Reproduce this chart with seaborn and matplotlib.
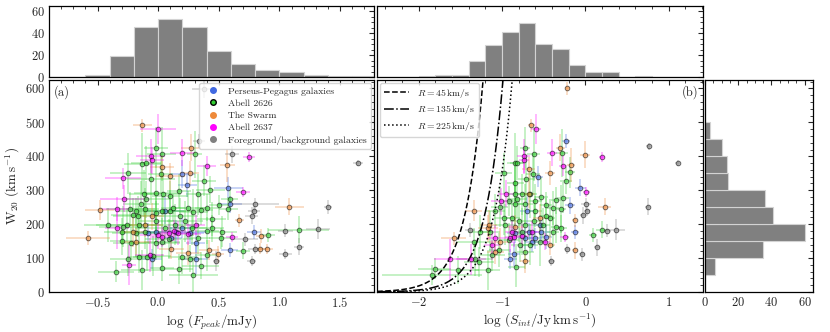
import numpy as np
import pandas as pd
import matplotlib
matplotlib.use("Agg")
import matplotlib.pyplot as plt
import seaborn as sns
from matplotlib.lines import Line2D
from matplotlib.ticker import MultipleLocator

# --- panel (a): (log F_peak, W20, err log F_peak, err W20) ---
pp_a = [(0.20, 348, 0.10, 40), (0.24, 316, 0.08, 35), (0.58, 308, 0.12, 30), (0.59, 258, 0.10, 25),
        (0.79, 177, 0.06, 20), (0.59, 123, 0.07, 20), (0.31, 145, 0.08, 30), (0.31, 98, 0.10, 45),
        (-0.05, 98, 0.08, 30), (0.15, 178, 0.25, 35), (0.06, 240, 0.15, 40), (-0.02, 178, 0.12, 25),
        (0.20, 188, 0.10, 30), (0.26, 173, 0.12, 25), (0.11, 158, 0.09, 35), (-0.08, 173, 0.10, 30)]
a2626_a = [(-0.02, 426, 0.10, 60), (0.30, 406, 0.06, 70), (0.03, 406, 0.12, 80), (-0.13, 378, 0.15, 90),
           (-0.10, 381, 0.12, 50), (-0.25, 350, 0.15, 60), (-0.06, 333, 0.20, 70), (0.02, 348, 0.10, 60),
           (0.38, 328, 0.10, 45), (0.43, 301, 0.12, 40), (-0.02, 293, 0.18, 80), (0.04, 288, 0.15, 60),
           (-0.12, 290, 0.12, 70), (-0.10, 273, 0.20, 55), (0.10, 283, 0.15, 45), (0.17, 298, 0.10, 50),
           (0.33, 288, 0.10, 60), (0.59, 273, 0.07, 30), (-0.23, 246, 0.20, 50), (-0.14, 258, 0.15, 70),
           (-0.11, 246, 0.12, 60), (-0.21, 228, 0.18, 50), (-0.18, 238, 0.15, 40), (-0.17, 223, 0.20, 60),
           (-0.02, 233, 0.15, 50), (0.03, 238, 0.20, 45), (0.10, 240, 0.18, 60), (0.12, 248, 0.10, 40),
           (0.25, 248, 0.15, 50), (0.29, 235, 0.12, 70), (0.35, 243, 0.10, 45), (0.40, 248, 0.10, 40),
           (0.50, 256, 0.08, 30), (0.44, 216, 0.12, 50), (0.58, 246, 0.08, 35), (1.16, 184, 0.25, 40),
           (0.91, 168, 0.05, 20), (0.70, 121, 0.06, 25), (0.52, 158, 0.10, 30), (0.53, 178, 0.12, 45),
           (0.35, 77, 0.15, 40), (0.29, 51, 0.20, 50), (0.17, 68, 0.12, 45), (0.03, 71, 0.10, 40),
           (-0.13, 65, 0.18, 60), (-0.25, 97, 0.15, 50), (-0.35, 60, 0.15, 30), (-0.30, 150, 0.10, 40),
           (-0.22, 143, 0.15, 50), (-0.16, 102, 0.10, 45), (-0.09, 102, 0.12, 40), (-0.04, 106, 0.15, 60),
           (-0.02, 143, 0.20, 50), (0.03, 148, 0.15, 70), (0.09, 156, 0.20, 60), (0.20, 103, 0.12, 50),
           (0.26, 98, 0.10, 40), (0.40, 108, 0.10, 45), (-0.29, 193, 0.20, 60), (-0.26, 198, 0.25, 50),
           (-0.18, 173, 0.20, 70), (0.40, 181, 0.10, 40), (0.22, 208, 0.15, 60), (0.28, 188, 0.12, 50),
           (0.14, 198, 0.20, 60), (0.06, 188, 0.25, 50), (-0.02, 208, 0.15, 60), (-0.11, 178, 0.20, 50),
           (0.33, 158, 0.10, 45), (-0.16, 198, 0.18, 55), (-0.30, 178, 0.15, 40), (-0.41, 198, 0.20, 50),
           (0.18, 223, 0.15, 55), (0.44, 188, 0.10, 40)]
swarm_a = [(-0.13, 491, 0.08, 20), (0.27, 426, 0.08, 40), (0.03, 368, 0.10, 35), (0.57, 373, 0.06, 50),
           (0.10, 341, 0.12, 40), (0.26, 350, 0.08, 35), (1.08, 251, 0.12, 25), (-0.48, 241, 0.12, 30),
           (0.67, 211, 0.04, 20), (0.85, 165, 0.04, 20), (0.84, 128, 0.06, 15), (0.90, 126, 0.05, 15),
           (-0.58, 160, 0.18, 20), (0.49, 111, 0.05, 25), (0.25, 115, 0.10, 35), (0.42, 123, 0.08, 30),
           (-0.21, 178, 0.10, 45), (-0.18, 148, 0.12, 40), (-0.11, 198, 0.15, 35), (-0.05, 223, 0.10, 40),
           (0.11, 128, 0.10, 30)]
a2637_a = [(0.00, 480, 0.15, 45), (0.20, 411, 0.10, 40), (-0.06, 400, 0.12, 50), (-0.05, 388, 0.10, 40),
           (0.40, 372, 0.08, 30), (0.75, 398, 0.05, 15), (-0.29, 335, 0.15, 30), (0.70, 295, 0.06, 15),
           (-0.28, 275, 0.20, 40), (-0.34, 245, 0.12, 35), (0.61, 163, 0.05, 15), (-0.24, 80, 0.06, 60),
           (0.13, 181, 0.10, 30), (0.16, 173, 0.12, 35), (0.31, 198, 0.08, 30), (0.00, 168, 0.15, 40),
           (0.03, 163, 0.10, 30), (-0.34, 188, 0.10, 60), (-0.07, 110, 0.12, 50), (0.09, 175, 0.10, 25),
           (0.25, 170, 0.10, 30)]
fgbg_a = [(0.38, 598, 0.10, 25), (0.34, 446, 0.05, 20), (0.61, 406, 0.06, 25), (1.65, 380, 0.04, 10),
          (0.80, 258, 0.20, 20), (1.40, 251, 0.03, 20), (0.79, 238, 0.05, 15), (0.77, 225, 0.05, 25),
          (1.05, 181, 0.06, 20), (1.32, 186, 0.10, 30), (0.72, 155, 0.10, 20), (0.80, 126, 0.06, 15),
          (0.77, 91, 0.04, 15), (1.05, 113, 0.05, 15), (1.16, 133, 0.04, 25), (0.48, 91, 0.03, 30)]

# --- panel (b): (log S_int, W20, err log S_int, err W20) ---
pp_b = [(-0.23, 446, 0.05, 20), (-0.57, 340, 0.06, 30), (-0.06, 308, 0.07, 25), (-0.18, 256, 0.06, 25),
        (-0.125, 177, 0.05, 20), (-0.90, 98, 0.08, 30), (-0.86, 113, 0.07, 35), (-0.60, 158, 0.08, 30),
        (-0.53, 178, 0.10, 35), (-0.68, 178, 0.10, 25), (-0.55, 198, 0.08, 30), (-0.72, 158, 0.09, 30),
        (-0.47, 163, 0.07, 35), (-0.70, 240, 0.08, 40), (-0.84, 173, 0.10, 30), (-0.64, 148, 0.08, 30)]
a2626_b = [(-0.73, 425, 0.06, 60), (-0.62, 406, 0.08, 80), (-0.28, 410, 0.07, 70), (-0.84, 380, 0.10, 90),
           (-0.82, 381, 0.08, 50), (-0.98, 350, 0.10, 60), (-0.63, 348, 0.08, 60), (-0.71, 333, 0.10, 70),
           (-0.19, 353, 0.06, 45), (-0.23, 328, 0.07, 40), (-0.84, 290, 0.10, 80), (-0.76, 288, 0.09, 60),
           (-0.66, 288, 0.08, 70), (-0.82, 273, 0.12, 55), (-0.92, 268, 0.12, 45), (-0.84, 258, 0.10, 70),
           (-0.72, 258, 0.09, 60), (-0.60, 268, 0.08, 50), (-0.53, 280, 0.08, 60), (-0.47, 256, 0.07, 40),
           (-0.39, 248, 0.07, 50), (-0.29, 245, 0.06, 70), (-0.27, 278, 0.07, 45), (0.09, 168, 0.05, 20),
           (0.20, 184, 0.07, 25), (-1.08, 238, 0.12, 50), (-1.03, 252, 0.10, 60), (-0.98, 218, 0.12, 50),
           (-1.53, 65, 0.25, 40), (-1.84, 51, 0.60, 30), (-1.81, 69, 0.20, 30), (-1.32, 98, 0.20, 50),
           (-1.28, 88, 0.18, 45), (-1.17, 65, 0.15, 60), (-1.04, 123, 0.12, 50), (-1.12, 108, 0.15, 45),
           (-0.83, 75, 0.10, 60), (-0.72, 118, 0.10, 50), (-1.34, 148, 0.20, 40), (-1.26, 178, 0.15, 50),
           (-1.15, 178, 0.12, 60), (-0.79, 138, 0.10, 50), (-0.66, 140, 0.09, 60), (-0.55, 148, 0.08, 70),
           (-0.39, 178, 0.07, 45), (-0.35, 193, 0.06, 50), (-0.29, 188, 0.07, 40), (-0.96, 198, 0.12, 60),
           (-0.88, 218, 0.10, 55), (-0.80, 208, 0.10, 60), (-0.72, 198, 0.09, 50), (-0.62, 208, 0.08, 60),
           (-0.51, 198, 0.08, 50), (-0.43, 218, 0.07, 55), (-0.76, 178, 0.10, 70), (-0.92, 153, 0.12, 50),
           (-0.60, 238, 0.08, 45), (-0.47, 223, 0.07, 55), (-0.84, 320, 0.10, 60), (-0.35, 270, 0.06, 40)]
swarm_b = [(-0.22, 600, 0.03, 20), (-0.65, 491, 0.04, 20), (-0.30, 426, 0.05, 40), (-0.01, 405, 0.06, 40),
           (-0.17, 374, 0.05, 50), (-0.68, 363, 0.08, 35), (-0.42, 350, 0.06, 35), (0.23, 251, 0.08, 25),
           (-0.13, 211, 0.03, 20), (-0.125, 123, 0.04, 25), (-1.34, 240, 0.10, 30), (-1.17, 188, 0.12, 40),
           (-1.58, 158, 0.15, 20), (-0.72, 90, 0.06, 35), (-1.16, 198, 0.10, 45), (-1.02, 148, 0.12, 40),
           (-0.84, 193, 0.10, 35), (-0.55, 218, 0.08, 40), (-0.43, 138, 0.07, 30), (-1.08, 118, 0.10, 35),
           (-0.68, 288, 0.08, 40)]
a2637_b = [(-0.59, 480, 0.06, 45), (-0.40, 411, 0.06, 40), (0.20, 398, 0.04, 15), (-0.74, 400, 0.08, 50),
           (-0.74, 388, 0.06, 40), (-0.27, 372, 0.05, 30), (0.01, 296, 0.04, 15), (-0.95, 290, 0.10, 40),
           (-0.25, 163, 0.05, 15), (-1.62, 96, 0.20, 60), (-1.37, 96, 0.18, 45), (-1.08, 158, 0.10, 40),
           (-0.90, 158, 0.08, 40), (-0.86, 163, 0.10, 30), (-0.88, 178, 0.08, 35), (-1.01, 268, 0.12, 40),
           (-1.12, 138, 0.10, 45), (-0.76, 166, 0.08, 35), (-0.64, 178, 0.08, 30), (-0.49, 148, 0.07, 25)]
fgbg_b = [(0.76, 430, 0.03, 10), (1.11, 380, 0.03, 10), (0.75, 251, 0.03, 25), (0.01, 258, 0.06, 20),
          (0.02, 240, 0.04, 15), (-0.03, 226, 0.04, 25), (0.26, 181, 0.05, 20), (0.37, 184, 0.10, 30),
          (0.14, 132, 0.04, 25), (-0.22, 126, 0.04, 15), (-0.04, 111, 0.04, 20), (-0.41, 91, 0.04, 15),
          (-1.38, 183, 0.06, 20)]

# --- marginal histograms (bin edges, counts) ---
fpeak_edges = np.round(np.arange(-1.0, 1.81, 0.2), 2)
fpeak_counts = [0, 0, 2, 19, 46, 53, 46, 24, 12, 6, 5, 2, 1, 1]
sint_edges = np.round(np.arange(-2.6, 1.41, 0.2), 2)
sint_counts = [0, 0, 0, 1, 2, 2, 15, 29, 41, 49, 30, 26, 11, 5, 5, 0, 1, 0, 0, 0]
w20_edges = np.arange(0, 601, 50)
w20_counts = [0, 6, 35, 60, 41, 36, 14, 13, 10, 3, 0, 0]

# detection-limit curves, S_lim = sig * sqrt(W * R)
r_values = [45, 135, 225]
r_styles = ['--', '-.', ':']
sig_lim = 3.53e-4

groups = ['Perseus-Pegagus galaxies', 'Abell 2626', 'The Swarm', 'Abell 2637',
          'Foreground/background galaxies']
colors = ['royalblue', 'limegreen', '#ee8a3a', 'magenta', 'gray']
data_a = [pp_a, a2626_a, swarm_a, a2637_a, fgbg_a]
data_b = [pp_b, a2626_b, swarm_b, a2637_b, fgbg_b]

sns.set_style('white')
plt.rcParams.update({
    'font.family': 'serif',
    'font.serif': ['cmr10'],
    'mathtext.fontset': 'cm',
    'axes.formatter.use_mathtext': True,
    'axes.unicode_minus': True,
    'font.size': 9,
    'axes.linewidth': 0.9,
})

W, H = 830, 332
fig = plt.figure(figsize=(W / 100, H / 100), dpi=100)


def rect(x0, x1, y0, y1):
    return [x0 / W, 1 - y1 / H, (x1 - x0) / W, (y1 - y0) / H]


ax_a = fig.add_axes(rect(49, 374, 80, 292))
ax_b = fig.add_axes(rect(377, 703, 80, 292), sharey=ax_a)
ax_r = fig.add_axes(rect(705, 813, 80, 292), sharey=ax_a)
ax_ta = fig.add_axes(rect(49, 374, 6, 77), sharex=ax_a)
ax_tb = fig.add_axes(rect(377, 703, 6, 77), sharex=ax_b, sharey=ax_ta)


def draw_points(ax, sets):
    for pts, c in zip(sets, colors):
        x, y, ex, ey = np.array(pts).T
        ax.errorbar(x, y, xerr=ex, yerr=ey, fmt='none', ecolor=c, elinewidth=1.3,
                    alpha=0.3, capsize=0, zorder=2)
        sns.scatterplot(x=x, y=y, ax=ax, color=c, edgecolor='k', s=11, linewidth=0.7,
                        alpha=0.55, zorder=3, legend=False)


draw_points(ax_a, data_a)
draw_points(ax_b, data_b)

wgrid = np.linspace(0.3, 700, 600)
for r, ls in zip(r_values, r_styles):
    sns.lineplot(x=np.log10(sig_lim * np.sqrt(wgrid * r)), y=wgrid, ax=ax_b, color='k',
                 linestyle=ls, lw=1.1, sort=False, estimator=None,
                 label=r'$R = %d\,\mathrm{km/s}$' % r)


def hist(ax, edges, counts, orient='x'):
    df = pd.DataFrame({'val': (edges[:-1] + edges[1:]) / 2, 'n': counts})
    sns.histplot(data=df, **{orient: 'val'}, weights='n', bins=list(edges), ax=ax,
                 color='gray', edgecolor='lightgray', linewidth=0.8, alpha=1)
    ax.set_xlabel('')
    ax.set_ylabel('')


hist(ax_ta, fpeak_edges, fpeak_counts)
hist(ax_tb, sint_edges, sint_counts)
hist(ax_r, w20_edges, w20_counts, orient='y')

ax_a.set_xlim(-0.9, 1.78)
ax_b.set_xlim(-2.5, 1.41)
ax_a.set_ylim(0, 625)
ax_ta.set_ylim(0, 65)
ax_r.set_xlim(0, 65)

ax_a.xaxis.set_major_locator(MultipleLocator(0.5))
ax_a.xaxis.set_minor_locator(MultipleLocator(0.1))
ax_b.xaxis.set_major_locator(MultipleLocator(1))
ax_b.xaxis.set_minor_locator(MultipleLocator(0.2))
ax_a.yaxis.set_major_locator(MultipleLocator(100))
ax_a.yaxis.set_minor_locator(MultipleLocator(20))
ax_ta.yaxis.set_major_locator(MultipleLocator(20))
ax_ta.yaxis.set_minor_locator(MultipleLocator(5))
ax_r.xaxis.set_major_locator(MultipleLocator(20))
ax_r.xaxis.set_minor_locator(MultipleLocator(5))

for ax in [ax_a, ax_b, ax_r, ax_ta, ax_tb]:
    ax.tick_params(which='both', direction='in', top=True, right=True, labelsize=9, pad=3)
    ax.tick_params(which='major', length=3.5, width=0.8)
    ax.tick_params(which='minor', length=2, width=0.6)
    for s in ax.spines.values():
        s.set_color('black')

ax_b.tick_params(labelleft=False)
ax_r.tick_params(labelleft=False)
ax_ta.tick_params(labelbottom=False)
ax_tb.tick_params(labelbottom=False, labelleft=False)

ax_a.set_xlabel(r'log $(F_{peak}/\mathrm{mJy})$', fontsize=9.5, labelpad=2)
ax_b.set_xlabel(r'log $(S_{int}/\mathrm{Jy\,km\,s^{-1}})$', fontsize=9.5, labelpad=2)
ax_a.set_ylabel(r'W$_{20}$ $(\mathrm{km\,s^{-1}})$', fontsize=9.5, labelpad=2)

ax_a.text(0.015, 0.975, '(a)', transform=ax_a.transAxes, ha='left', va='top', fontsize=9)
ax_b.text(0.985, 0.975, '(b)', transform=ax_b.transAxes, ha='right', va='top', fontsize=9)

handles = []
for g, c in zip(groups, colors):
    mec = 'k' if g == 'Abell 2626' else c
    handles.append(Line2D([], [], ls='', marker='o', color=c, mec=mec, mew=1.0, ms=4, label=g))
ax_a.legend(handles=handles, loc='upper right', fontsize=7, borderaxespad=0.3,
            handletextpad=0.6, labelspacing=0.35, framealpha=0.8)
ax_b.legend(loc='upper left', fontsize=7, borderaxespad=0.3, handlelength=2.6,
            labelspacing=0.35, framealpha=0.8)

fig.savefig('out.png', dpi=100)
